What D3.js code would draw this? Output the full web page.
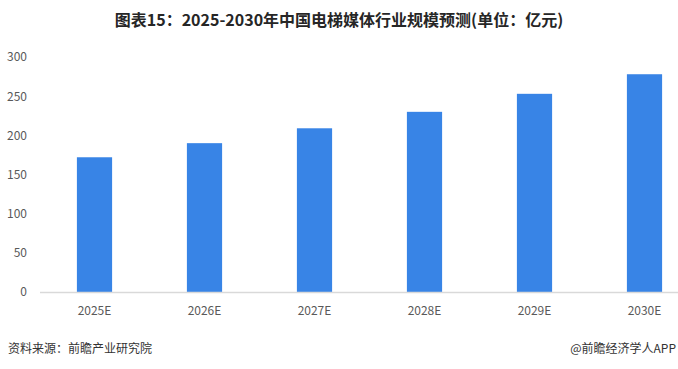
<!DOCTYPE html>
<html><head><meta charset="utf-8">
<script src="https://cdn.jsdelivr.net/npm/d3@7"></script>
<style>
html,body{margin:0;padding:0;background:#fff;}
svg{display:block;font-family:"Noto Sans CJK SC","Microsoft YaHei",sans-serif;}
</style></head>
<body>
<svg id="chart" width="678" height="369"></svg>
<script>
const categories = ["2025E","2026E","2027E","2028E","2029E","2030E"];
const values = [172, 190, 209, 230, 253, 278];
const yTicks = [0, 50, 100, 150, 200, 250, 300];
const title = "图表15：2025-2030年中国电梯媒体行业规模预测(单位：亿元)";
const source = "资料来源：前瞻产业研究院";
const credit = "@前瞻经济学人APP";

const svg = d3.select("#chart");
const W = 678, H = 369;

const x = d3.scaleBand().domain(categories).range([39.5, 699.5]).paddingInner(0.68).paddingOuter(0.34);
const y = d3.scaleLinear().domain([0, 300]).range([292, 57]);

svg.append("text").attr("x", W/2).attr("y", 26).attr("text-anchor","middle")
  .attr("font-size", 16).attr("font-weight","bold").attr("fill","#262626").text(title);

// y axis labels
const ya = svg.append("g").attr("transform","translate(27,0)")
  .call(d3.axisLeft(y).tickValues(yTicks).tickSize(0).tickPadding(0));
ya.select(".domain").remove();
ya.selectAll("text").attr("font-size",12).attr("fill","#595959").attr("font-family","'Noto Sans CJK SC',sans-serif");

// bars
svg.append("g").selectAll("rect").data(categories).join("rect")
  .attr("x", d => x(d)).attr("width", x.bandwidth())
  .attr("y", (d,i) => y(values[i])).attr("height", (d,i) => y(0) - y(values[i]))
  .attr("fill", "#3884e6");

// x axis
const xa = svg.append("g").attr("transform", `translate(0,${y(0)})`)
  .call(d3.axisBottom(x).tickSize(0).tickPadding(14));
xa.select(".domain").attr("stroke","#d9d9d9").attr("stroke-width",1.5);
xa.selectAll("text").attr("font-size",12).attr("fill","#595959").attr("font-family","'Noto Sans CJK SC',sans-serif");

svg.append("text").attr("x", 8).attr("y", 353).attr("font-size",12).attr("fill","#333").text(source);
svg.append("text").attr("x", 676).attr("y", 353).attr("text-anchor","end").attr("font-size",12).attr("fill","#333").text(credit);
</script>
</body></html>
